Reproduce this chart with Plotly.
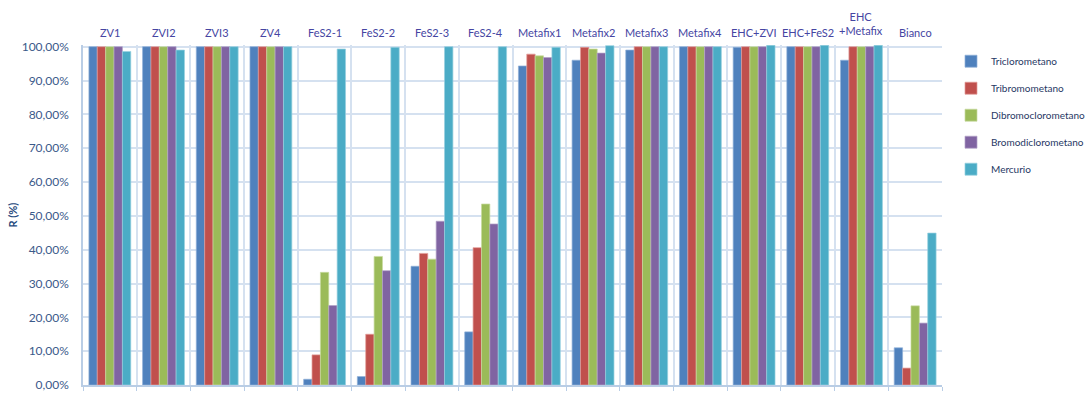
import plotly.graph_objects as go

# Campioni / trattamenti
categories = ["ZV1", "ZVI2", "ZVI3", "ZV4", "FeS2-1", "FeS2-2", "FeS2-3", "FeS2-4",
              "Metafix1", "Metafix2", "Metafix3", "Metafix4", "EHC+ZVI", "EHC+FeS2",
              "EHC<br>+Metafix", "Bianco"]

# Rimozione R (%) per contaminante
triclorometano = [100, 100, 100, 100, 1.7, 2.5, 35.1, 15.7,
                  94.3, 96.0, 99.0, 100, 99.8, 100, 96.0, 11.0]
tribromometano = [100, 100, 100, 100, 8.9, 15.0, 38.9, 40.6,
                  97.8, 99.8, 100, 100, 100, 100, 100, 5.0]
dibromoclorometano = [100, 100, 100, 100, 33.3, 38.0, 37.2, 53.5,
                      97.3, 99.3, 100, 100, 100, 100, 100, 23.4]
bromodiclorometano = [100, 100, 100, 100, 23.5, 33.8, 48.4, 47.6,
                      96.8, 98.1, 100, 100, 100, 100, 100, 18.3]
mercurio = [98.6, 99.0, 100, 100, 99.3, 99.8, 100, 100,
            99.8, 100.3, 100, 100, 100.4, 100.4, 100.4, 44.9]

y_ticks = [0, 10, 20, 30, 40, 50, 60, 70, 80, 90, 100]
y_labels = [f"{v:.2f}".replace(".", ",") + "%" for v in y_ticks]

series = [
    ("Triclorometano", triclorometano, "#4F81BD", "#8FB0D8"),
    ("Tribromometano", tribromometano, "#C0504D", "#E29C9A"),
    ("Dibromoclorometano", dibromoclorometano, "#9BBB59", "#C8DBA0"),
    ("Bromodiclorometano", bromodiclorometano, "#8064A2", "#B3A2C8"),
    ("Mercurio", mercurio, "#4BACC6", "#96D0E0"),
]

fig = go.Figure()
for i, (name, vals, col, edge) in enumerate(series):
    fig.add_trace(go.Bar(
        x=categories, y=vals, name=name, legendgroup=f"g{i}",
        marker=dict(color=col, line=dict(color=edge, width=0.7)),
        cliponaxis=False,
    ))

# Etichette dei campioni sopra l'area del grafico
for cat in categories:
    fig.add_annotation(
        x=cat, xref="x", y=1.038 if "<br>" not in cat else 1.062, yref="paper",
        text=cat, showarrow=False, xanchor="center", yanchor="middle",
        font=dict(size=11, color="#4545A2"),
    )

grid = "#D5E1F0"
axis_line = "#B9CDE5"
x_range = [-0.5, len(categories) - 0.5]

fig.update_layout(
    width=1091, height=395,
    margin=dict(l=83, r=0, t=45, b=10),
    paper_bgcolor="white", plot_bgcolor="white",
    barmode="group", bargap=0.22, bargroupgap=0,
    font=dict(family="Lato, Open Sans, sans-serif", size=12, color="#3B5A8A"),
    xaxis=dict(
        type="category", categoryorder="array", categoryarray=categories,
        range=x_range, tickson="boundaries", domain=[0, 859 / 1008],
        showgrid=True, gridcolor=grid, gridwidth=1.5,
        showline=True, linecolor=axis_line, linewidth=1.5,
        ticks="outside", ticklen=4, tickcolor=axis_line,
        showticklabels=False, zeroline=False, automargin=False,
    ),
    yaxis=dict(
        range=[0, 100.5], tickvals=y_ticks, ticktext=y_labels,
        showgrid=True, gridcolor=grid, gridwidth=1.5,
        showline=True, linecolor=axis_line, linewidth=1.5,
        zeroline=False, ticks="", ticklabelstandoff=10, automargin=False,
        tickfont=dict(size=12, color="#3B5A8A"),
        title=dict(text="<b>R (%)</b>", font=dict(size=11, color="#1F497D"), standoff=2),
    ),
    legend=dict(
        x=(951 - 83) / 1008, y=0.995, xanchor="left", yanchor="top",
        font=dict(size=10, color="#1F3864"),
        traceorder="grouped", tracegroupgap=8,
        itemwidth=30, bgcolor="rgba(0,0,0,0)",
    ),
)

fig.write_html("out.html")
